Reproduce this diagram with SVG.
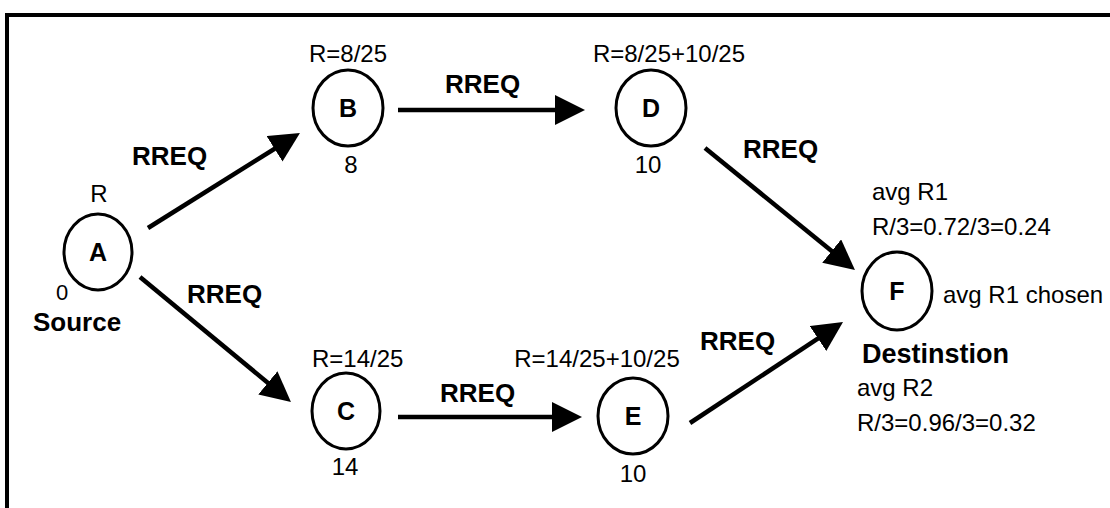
<svg xmlns="http://www.w3.org/2000/svg" width="1110" height="508" viewBox="0 0 1110 508">
  <style>
    .node { fill: none; stroke: #000; stroke-width: 3; }
    .id { font: bold 25px "Liberation Sans", Arial, sans-serif; text-anchor: middle; fill: #000; }
    .lbl { font: 24px "Liberation Sans", Arial, sans-serif; fill: #000; }
    .mid { text-anchor: middle; }
    .bold { font: bold 26px "Liberation Sans", Arial, sans-serif; fill: #000; }
    .edge { stroke: #000; stroke-width: 4.5; fill: none; marker-end: url(#head); }
  </style>
  <defs>
    <marker id="head" markerUnits="userSpaceOnUse" markerWidth="30" markerHeight="30" refX="12" refY="15" orient="auto">
      <path d="M0,0 L30,15 L0,30 z" fill="#000"/>
    </marker>
  </defs>

  <rect width="1110" height="508" fill="#fff"/>
  <!-- frame: top and left rules -->
  <path d="M7,508 L7,15 L1110,15" fill="none" stroke="#000" stroke-width="4"/>

  <g id="edges">
    <line class="edge" x1="148" y1="228" x2="284.7" y2="142.5"/>
    <line class="edge" x1="140" y1="277" x2="277.1" y2="390.5"/>
    <line class="edge" x1="398" y1="110" x2="567" y2="110"/>
    <line class="edge" x1="705" y1="148" x2="841.0" y2="258.6"/>
    <line class="edge" x1="398" y1="417" x2="564" y2="417"/>
    <line class="edge" x1="690" y1="423" x2="828.0" y2="331.9"/>
    <text class="bold" x="132" y="165">RREQ</text>
    <text class="bold" x="187" y="303">RREQ</text>
    <text class="bold" x="445" y="93">RREQ</text>
    <text class="bold" x="743" y="158">RREQ</text>
    <text class="bold" x="440" y="402">RREQ</text>
    <text class="bold" x="700" y="350">RREQ</text>
  </g>

  <g id="node-A">
    <ellipse class="node" cx="98" cy="252" rx="34" ry="38"/>
    <text class="id" x="98" y="261">A</text>
    <text class="lbl mid" x="99" y="202">R</text>
    <text class="lbl mid" x="62" y="300" style="font-size:22px">0</text>
    <text class="bold" x="33" y="331">Source</text>
  </g>

  <g id="node-B">
    <ellipse class="node" cx="348" cy="108" rx="35" ry="38"/>
    <text class="id" x="348" y="117">B</text>
    <text class="lbl mid" x="348" y="62">R=8/25</text>
    <text class="lbl mid" x="351" y="173">8</text>
  </g>

  <g id="node-D">
    <ellipse class="node" cx="651" cy="108" rx="35" ry="38"/>
    <text class="id" x="651" y="117">D</text>
    <text class="lbl mid" x="669" y="62">R=8/25+10/25</text>
    <text class="lbl mid" x="648" y="173">10</text>
  </g>

  <g id="node-C">
    <ellipse class="node" cx="346" cy="411" rx="34" ry="38"/>
    <text class="id" x="346" y="420">C</text>
    <text class="lbl" x="312" y="367">R=14/25</text>
    <text class="lbl mid" x="345" y="475">14</text>
  </g>

  <g id="node-E">
    <ellipse class="node" cx="633" cy="416" rx="35" ry="38"/>
    <text class="id" x="633" y="425">E</text>
    <text class="lbl mid" x="597" y="367">R=14/25+10/25</text>
    <text class="lbl mid" x="633" y="482">10</text>
  </g>

  <g id="node-F">
    <ellipse class="node" cx="897" cy="291" rx="35" ry="39"/>
    <text class="id" x="897" y="300">F</text>
    <text class="lbl" x="872" y="200">avg R1</text>
    <text class="lbl" x="872" y="235">R/3=0.72/3=0.24</text>
    <text class="lbl" x="943" y="303">avg R1 chosen</text>
    <text class="bold" x="862" y="363" style="font-size:27px">Destinstion</text>
    <text class="lbl" x="857" y="396">avg R2</text>
    <text class="lbl" x="857" y="431">R/3=0.96/3=0.32</text>
  </g>
</svg>
